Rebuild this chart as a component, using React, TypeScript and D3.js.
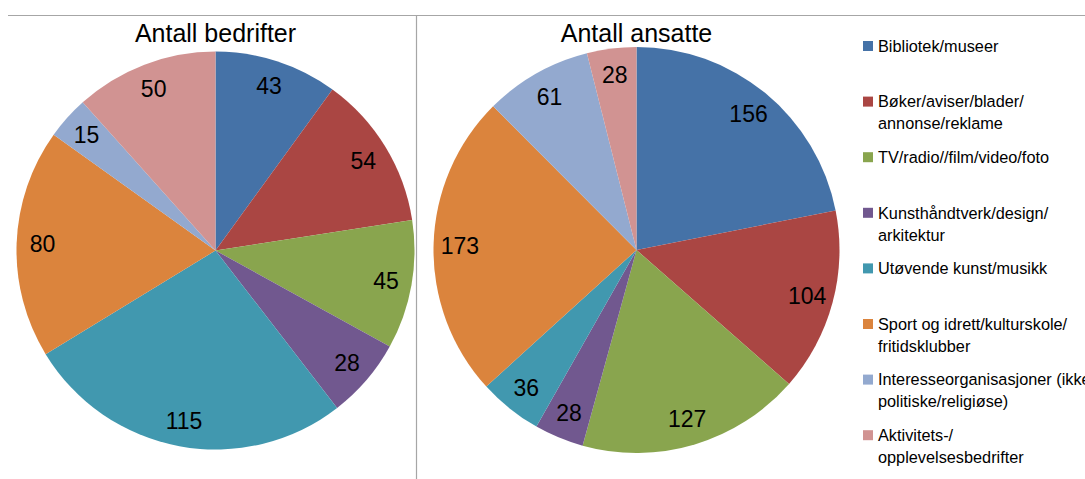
import * as d3 from 'd3';

const categories = [
  'Bibliotek/museer',
  'Bøker/aviser/blader/\nannonse/reklame',
  'TV/radio//film/video/foto',
  'Kunsthåndtverk/design/\narkitektur',
  'Utøvende kunst/musikk',
  'Sport og idrett/kulturskole/\nfritidsklubber',
  'Interesseorganisasjoner (ikke\npolitiske/religiøse)',
  'Aktivitets-/\nopplevelsesbedrifter',
];
const bedrifter = [43, 54, 45, 28, 115, 80, 15, 50];
const ansatte = [156, 104, 127, 28, 36, 173, 61, 28];
const colors = ['#4572A7', '#AA4643', '#89A54E', '#71588F', '#4198AF', '#DB843D', '#93A9CF', '#D19392'];

const FONT = '"Liberation Sans", Arial, sans-serif';

type PieProps = { title: string; values: number[]; cx: number; cy: number; r: number };

function Pie({ title, values, cx, cy, r }: PieProps) {
  const pie = d3.pie<number>().sort(null).value((d) => d);
  const arcs = pie(values);
  const arc = d3.arc<d3.PieArcDatum<number>>().innerRadius(0).outerRadius(r);
  const labelArc = d3.arc<d3.PieArcDatum<number>>().innerRadius(r * 0.87).outerRadius(r * 0.87);
  return (
    <g>
      <text x={cx} y={42} textAnchor="middle" fontSize={25} fontFamily={FONT} fill="#000">
        {title}
      </text>
      <g transform={`translate(${cx},${cy})`}>
        {arcs.map((a, i) => (
          <path key={i} d={arc(a) ?? ''} fill={colors[i]} />
        ))}
        {arcs.map((a, i) => {
          const [x, y] = labelArc.centroid(a);
          return (
            <text key={i} x={x} y={y} dy="0.36em" textAnchor="middle" fontSize={23} fontFamily={FONT} fill="#000">
              {a.data}
            </text>
          );
        })}
      </g>
    </g>
  );
}

export default function App() {
  const width = 1085;
  const height = 479;
  return (
    <svg width={width} height={height} style={{ position: 'absolute', left: 0, top: 0, background: '#fff' }}>
      <rect width={width} height={height} fill="#fff" />
      <line x1={8} x2={width} y1={15.5} y2={15.5} stroke="#a6a6a6" strokeWidth={1.2} />
      <line x1={416.5} x2={416.5} y1={15} y2={height} stroke="#a6a6a6" strokeWidth={1.2} />
      <Pie title="Antall bedrifter" values={bedrifter} cx={215.5} cy={250.5} r={199} />
      <Pie title="Antall ansatte" values={ansatte} cx={636.5} cy={250} r={203} />
      <g fontFamily={FONT} fontSize={16.3} fill="#000">
        {categories.map((c, i) => {
          const y0 = 46 + i * 55.6;
          return (
            <g key={i}>
              <rect x={863} y={y0 - 5} width={10} height={10} fill={colors[i]} />
              {c.split('\n').map((line, j) => (
                <text key={j} x={878} y={y0 + j * 22} dy="0.35em">
                  {line}
                </text>
              ))}
            </g>
          );
        })}
      </g>
    </svg>
  );
}
